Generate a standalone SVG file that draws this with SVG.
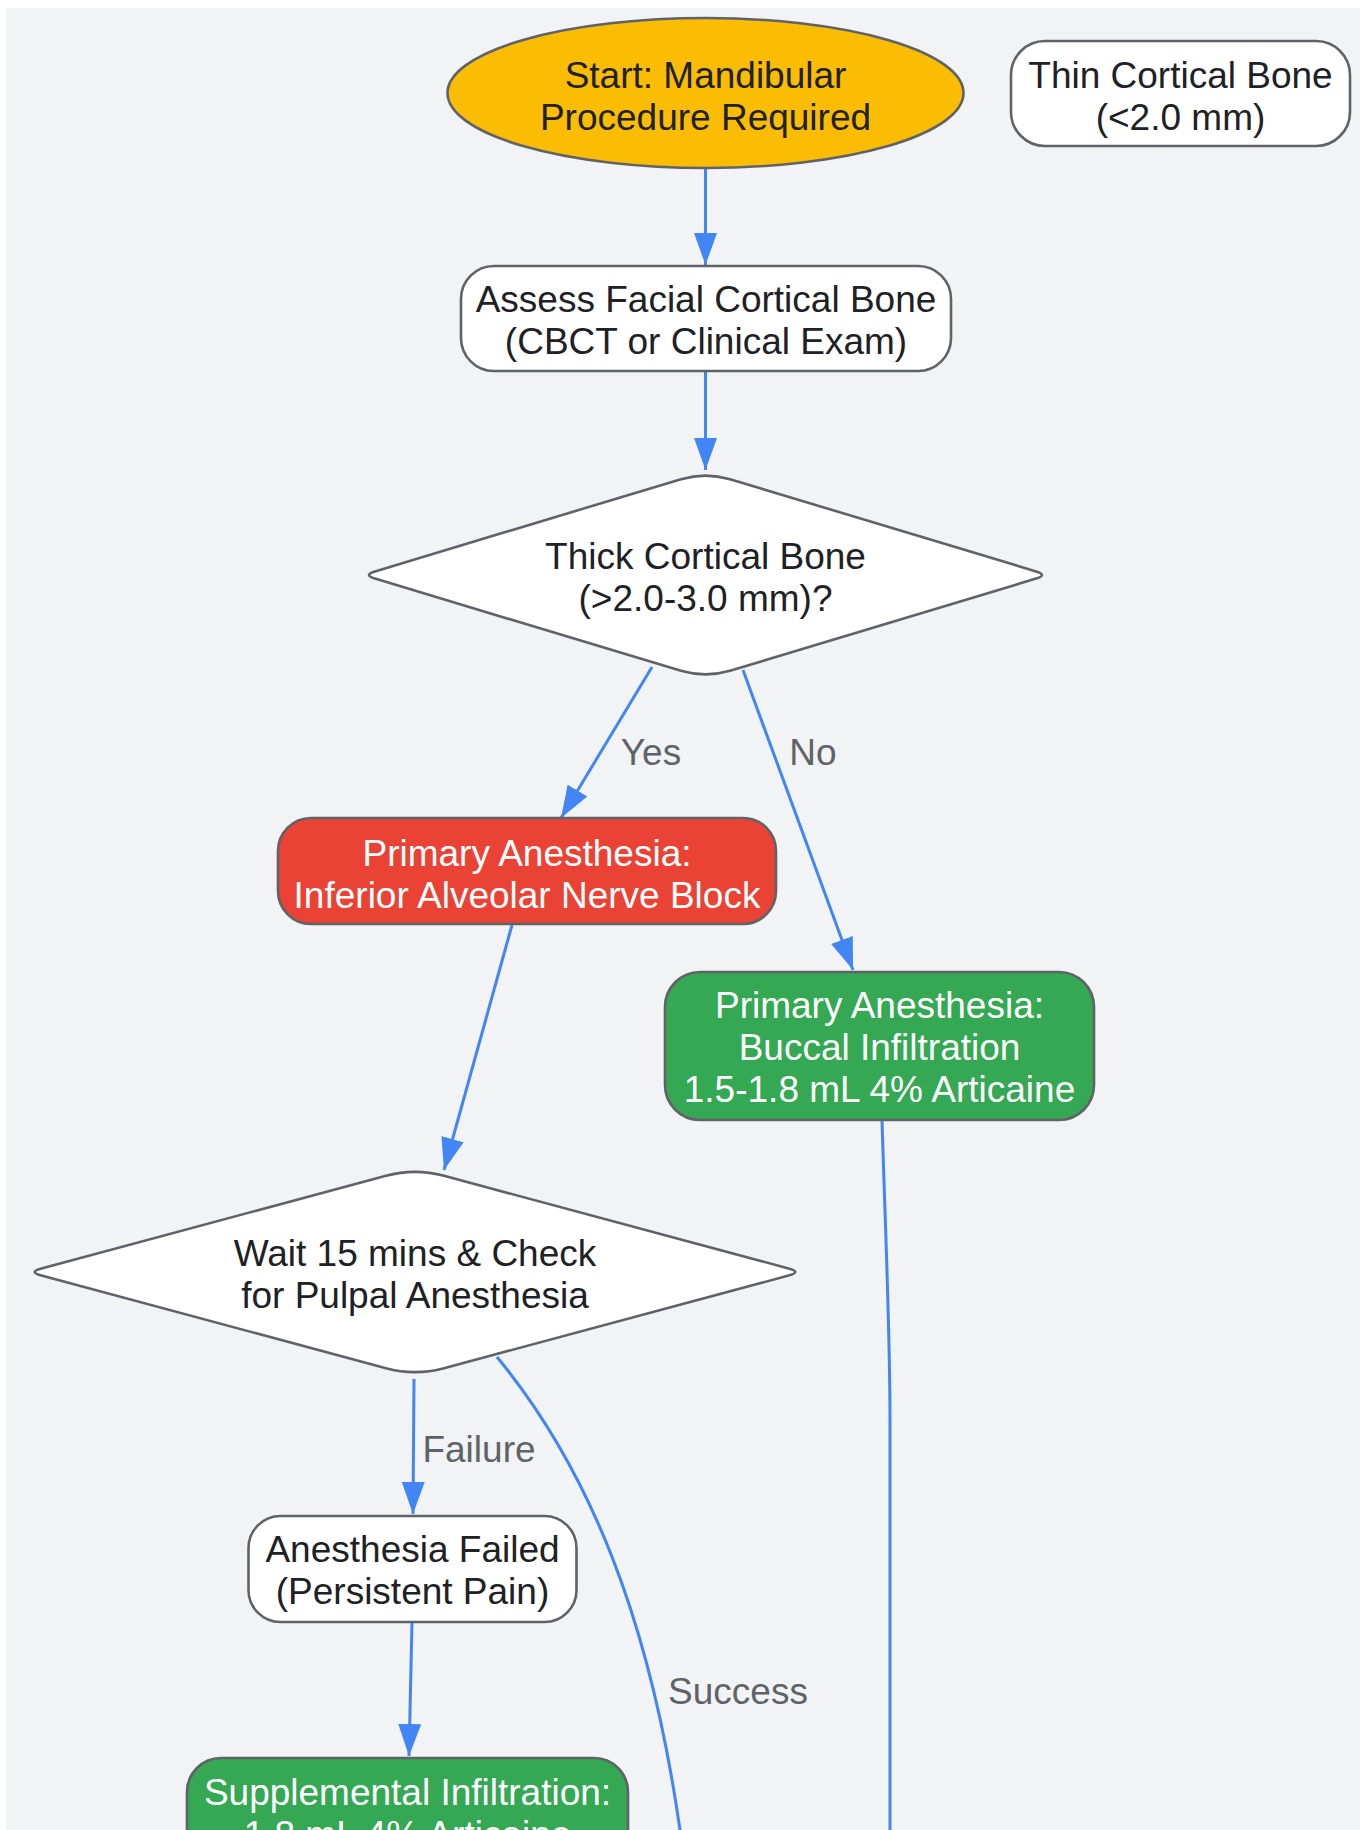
<svg xmlns="http://www.w3.org/2000/svg" width="1360" height="1830" viewBox="0 0 1360 1830">
<defs>
<style>
.node{stroke:#5f6368;stroke-width:2.6}
.t{font-family:"Liberation Sans",Arial,sans-serif;font-size:37px;text-anchor:middle;fill:#202124}
.w{fill:#ffffff}
.lbl{font-family:"Liberation Sans",Arial,sans-serif;font-size:37px;text-anchor:middle;fill:#5f6368}
.e{fill:none;stroke:#4285f4;stroke-width:3}
</style>
<marker id="ah" viewBox="0 0 32 23" markerWidth="32" markerHeight="23" refX="32" refY="11.5" orient="auto" markerUnits="userSpaceOnUse">
<path d="M0,0 L32,11.5 L0,23 Z" fill="#4285f4"/>
</marker>
</defs>
<rect x="0" y="0" width="1360" height="1830" fill="#ffffff"/>
<rect x="6" y="8" width="1354" height="1822" fill="#f1f3f4"/>

<g id="connectors">
<path class="e" d="M705.5,168 L705.5,265" marker-end="url(#ah)"/>
<path class="e" d="M705.5,371 L705.5,470" marker-end="url(#ah)"/>
<path class="e" d="M652,667 L561,818" marker-end="url(#ah)"/>
<path class="e" d="M743,670 L853,970" marker-end="url(#ah)"/>
<path class="e" d="M512,925 L444,1170" marker-end="url(#ah)"/>
<path class="e" d="M414,1379 L413,1514" marker-end="url(#ah)"/>
<path class="e" d="M497,1357 C590,1470 650,1620 680,1830 L690,1900"/>
<path class="e" d="M412,1622 L409,1756" marker-end="url(#ah)"/>
<path class="e" d="M882,1120 C886,1250 890,1330 890,1420 L890,1840"/>
<text class="lbl" x="651" y="765">Yes</text>
<text class="lbl" x="813" y="765">No</text>
<text class="lbl" x="479" y="1462">Failure</text>
<text class="lbl" x="738" y="1704">Success</text>
</g>

<g id="start">
<ellipse class="node" cx="705.5" cy="93" rx="258" ry="75" fill="#fbbc04"/>
<text class="t" x="705.5" y="87.5">Start: Mandibular</text>
<text class="t" x="705.5" y="129.5">Procedure Required</text>
</g>

<g id="thin">
<rect class="node" x="1011" y="41" width="339" height="105" rx="34" fill="#ffffff"/>
<text class="t" x="1180.5" y="87.5">Thin Cortical Bone</text>
<text class="t" x="1180.5" y="129.5">(&lt;2.0 mm)</text>
</g>

<g id="assess">
<rect class="node" x="461" y="266" width="490" height="105" rx="33" fill="#ffffff"/>
<text class="t" x="706" y="312">Assess Facial Cortical Bone</text>
<text class="t" x="706" y="354">(CBCT or Clinical Exam)</text>
</g>

<g id="thick">
<path class="node" fill="#ffffff" d="M681,479.2 Q705.5,472 730,479.2 L1036,571.4 Q1048,575 1036,578.6 L730,670.8 Q705.5,678 681,670.8 L375,578.6 Q363,575 375,571.4 Z"/>
<text class="t" x="705.5" y="569">Thick Cortical Bone</text>
<text class="t" x="705.5" y="611">(&gt;2.0-3.0 mm)?</text>
</g>

<g id="ianb">
<rect class="node" x="278" y="818" width="498" height="106" rx="33" fill="#ea4335"/>
<text class="t w" x="527" y="865.5">Primary Anesthesia:</text>
<text class="t w" x="527" y="907.5">Inferior Alveolar Nerve Block</text>
</g>

<g id="buccal">
<rect class="node" x="665" y="972" width="429" height="148" rx="35" fill="#34a853"/>
<text class="t w" x="879.5" y="1018">Primary Anesthesia:</text>
<text class="t w" x="879.5" y="1060">Buccal Infiltration</text>
<text class="t w" x="879.5" y="1102">1.5-1.8 mL 4% Articaine</text>
</g>

<g id="wait">
<path class="node" fill="#ffffff" d="M386,1175.8 Q415,1168 444,1175.8 L788.5,1268.4 Q802,1272 788.5,1275.6 L444,1368.2 Q415,1376 386,1368.2 L41.5,1275.6 Q28,1272 41.5,1268.4 Z"/>
<text class="t" x="415" y="1266">Wait 15 mins &amp; Check</text>
<text class="t" x="415" y="1308">for Pulpal Anesthesia</text>
</g>

<g id="failed">
<rect class="node" x="248.5" y="1516" width="328" height="106" rx="32" fill="#ffffff"/>
<text class="t" x="412.5" y="1562">Anesthesia Failed</text>
<text class="t" x="412.5" y="1604">(Persistent Pain)</text>
</g>

<g id="supplemental">
<rect class="node" x="187" y="1758" width="441" height="150" rx="34" fill="#34a853"/>
<text class="t w" x="407.5" y="1805">Supplemental Infiltration:</text>
<text class="t w" x="407.5" y="1847">1.8 mL 4% Articaine</text>
</g>
</svg>
